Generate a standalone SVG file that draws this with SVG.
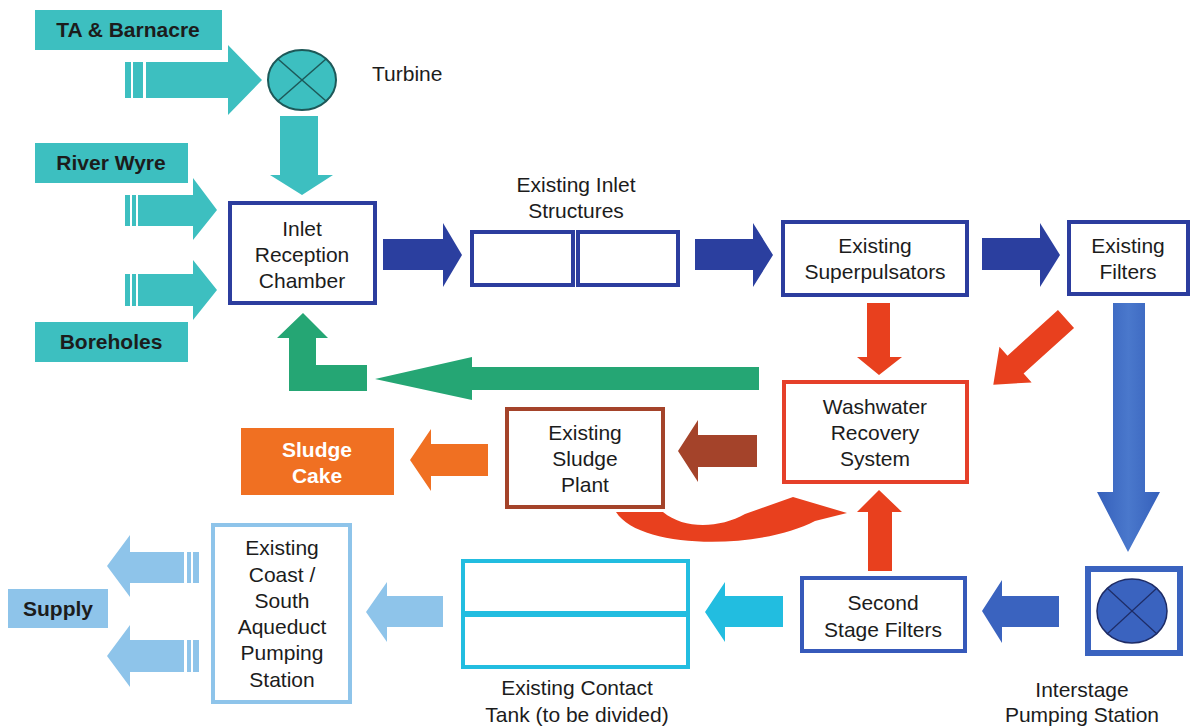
<svg xmlns="http://www.w3.org/2000/svg" width="1192" height="727" viewBox="0 0 1192 727">
<defs>
<style>
.t{font-family:"Liberation Sans",Arial,sans-serif;font-size:21px;fill:#1c1c1c;text-anchor:middle}
.b{font-weight:bold}
.w{fill:#ffffff}
.teal{fill:#3dbfc0}
.dblue{fill:#2b3f9f}
.mblue{fill:#3a63bf}
.red{fill:#e8401e}
.box{fill:#ffffff;stroke-width:4}
.bx{stroke:#2c3d9e}
</style>
<linearGradient id="bg" x1="0" y1="0" x2="1" y2="0">
<stop offset="0" stop-color="#3560bb"/>
<stop offset="0.5" stop-color="#4a78cc"/>
<stop offset="1" stop-color="#3560bb"/>
</linearGradient>
</defs>
<rect width="1192" height="727" fill="#ffffff"/>

<g id="connectors">
<g class="teal">
<rect x="125" y="62" width="6" height="36"/><rect x="133" y="62" width="10" height="36"/>
<polygon points="146,62 228,62 228,45 262,80 228,115 228,98 146,98"/>
<polygon points="280,116 318,116 318,175 333,175 302,195 270,175 280,175"/>
<rect x="125" y="195" width="5" height="31"/><rect x="132" y="195" width="4" height="31"/>
<polygon points="138,195 193,195 193,178 217,210 193,240 193,226 138,226"/>
<rect x="125" y="274" width="5" height="32"/><rect x="132" y="274" width="4" height="32"/>
<polygon points="138,274 193,274 193,260 217,290 193,320 193,306 138,306"/>
</g>
<g class="dblue">
<polygon points="383,239 443,239 443,223 462,255 443,287 443,270 383,270"/>
<polygon points="695,239 753,239 753,223 773,255 753,287 753,270 695,270"/>
<polygon points="982,238 1040,238 1040,223 1060,255 1040,287 1040,270 982,270"/>
</g>
<polygon fill="url(#bg)" points="1113,303 1145,303 1145,492 1160,492 1128,552 1097,492 1113,492"/>
<polygon class="mblue" points="1059,596 1059,627 1002,627 1002,643 982,611 1002,580 1002,596"/>
<polygon fill="#22bde0" points="783,596 783,627 725,627 725,642 705,612 725,582 725,596"/>
<polygon fill="#8ec4ea" points="443,596 443,627 387,627 387,642 366,612 387,582 387,596"/>
<g fill="#8ec4ea">
<polygon points="184,552 184,583 130,583 130,597 107,566 130,535 130,552"/>
<rect x="187" y="552" width="4" height="31"/><rect x="193" y="552" width="6" height="31"/>
<polygon points="184,640 184,672 130,672 130,687 107,656 130,625 130,640"/>
<rect x="187" y="640" width="4" height="32"/><rect x="193" y="640" width="6" height="32"/>
</g>
<g class="red">
<polygon points="867,303 890,303 890,357 902,357 879,375 857,357 867,357"/>
<polygon points="868,571 892,571 892,512 902,512 879,490 857,512 868,512"/>
<polygon transform="translate(1066,319) rotate(137.9)" points="0,-12 68,-12 68,-24 98,0 68,24 68,12 0,12"/>
<path d="M616,512 C640,550 760,550 815,521 L847,513 L793,497 L745,514 C720,528 685,530 663,512 Z"/>
</g>
<polygon fill="#a4432a" points="757,435 757,467 698,467 698,482 678,451 698,420 698,435"/>
<polygon fill="#f07022" points="488,444 488,476 431,476 431,491 410,460 431,429 431,444"/>
<g fill="#25a674">
<polygon points="303,313 328,338 316,338 316,365 367,365 367,391 289,391 289,338 277,338"/>
<polygon points="759,367 759,390 472,390 472,400 375,379 472,357 472,367"/>
</g>
</g>

<g id="ta-barnacre"><rect x="35" y="10" width="187" height="40" class="teal"/><text class="t b" x="128" y="37">TA &amp; Barnacre</text></g>
<g id="river-wyre"><rect x="35" y="143" width="153" height="40" class="teal"/><text class="t b" x="111" y="170">River Wyre</text></g>
<g id="boreholes"><rect x="35" y="322" width="153" height="40" class="teal"/><text class="t b" x="111" y="349">Boreholes</text></g>
<g id="turbine">
<ellipse cx="302" cy="80" rx="34" ry="30" fill="#3dbfc0" stroke="#1d5858" stroke-width="2"/>
<line x1="278" y1="59" x2="326" y2="101" stroke="#1d5858" stroke-width="1.5"/>
<line x1="326" y1="59" x2="278" y2="101" stroke="#1d5858" stroke-width="1.5"/>
<text class="t" x="372" y="81" style="text-anchor:start">Turbine</text>
</g>
<g id="inlet-chamber"><rect x="230" y="203" width="145" height="100" class="box bx"/>
<text class="t" x="302" y="236">Inlet</text><text class="t" x="302" y="262">Reception</text><text class="t" x="302" y="288">Chamber</text></g>
<g id="inlet-structures">
<rect x="472" y="232" width="101" height="53" class="box bx"/><rect x="578" y="232" width="100" height="53" class="box bx"/>
<text class="t" x="576" y="192">Existing Inlet</text><text class="t" x="576" y="218">Structures</text></g>
<g id="superpulsators"><rect x="783" y="222" width="184" height="73" class="box bx"/>
<text class="t" x="875" y="253">Existing</text><text class="t" x="875" y="279">Superpulsators</text></g>
<g id="filters"><rect x="1069" y="222" width="119" height="72" class="box bx"/>
<text class="t" x="1128" y="253">Existing</text><text class="t" x="1128" y="279">Filters</text></g>
<g id="washwater"><rect x="784" y="382" width="183" height="100" class="box" stroke="#e5402a"/>
<text class="t" x="875" y="414">Washwater</text><text class="t" x="875" y="440">Recovery</text><text class="t" x="875" y="466">System</text></g>
<g id="sludge-plant"><rect x="507" y="409" width="156" height="98" class="box" stroke="#a4432a"/>
<text class="t" x="585" y="440">Existing</text><text class="t" x="585" y="466">Sludge</text><text class="t" x="585" y="492">Plant</text></g>
<g id="sludge-cake"><rect x="241" y="428" width="153" height="67" fill="#f07022"/>
<text class="t b w" x="317" y="457">Sludge</text><text class="t b w" x="317" y="483">Cake</text></g>
<g id="second-stage"><rect x="802" y="578" width="163" height="73" class="box" stroke="#3659ba"/>
<text class="t" x="883" y="610">Second</text><text class="t" x="883" y="637">Stage Filters</text></g>
<g id="interstage">
<rect x="1088" y="569" width="92" height="84" fill="#ffffff" stroke="#3a63bf" stroke-width="6"/>
<ellipse cx="1132" cy="611" rx="35" ry="32" fill="#3a63bf" stroke="#1e2c66" stroke-width="1.5"/>
<line x1="1107" y1="588" x2="1157" y2="634" stroke="#1e2c66" stroke-width="1.2"/>
<line x1="1157" y1="588" x2="1107" y2="634" stroke="#1e2c66" stroke-width="1.2"/>
<text class="t" x="1082" y="697">Interstage</text><text class="t" x="1082" y="722">Pumping Station</text></g>
<g id="contact-tank">
<rect x="463" y="561" width="225" height="106" class="box" stroke="#22bde0"/>
<line x1="463" y1="614" x2="688" y2="614" stroke="#22bde0" stroke-width="6"/>
<text class="t" x="577" y="695">Existing Contact</text><text class="t" x="577" y="722">Tank (to be divided)</text></g>
<g id="coast-pumping"><rect x="213" y="525" width="137" height="177" class="box" stroke="#8ec4ea"/>
<text class="t" x="282" y="555">Existing</text><text class="t" x="282" y="582">Coast /</text><text class="t" x="282" y="608">South</text>
<text class="t" x="282" y="634">Aqueduct</text><text class="t" x="282" y="660">Pumping</text><text class="t" x="282" y="687">Station</text></g>
<g id="supply"><rect x="8" y="589" width="100" height="39" fill="#8ec4ea"/><text class="t b" x="58" y="616">Supply</text></g>
</svg>
